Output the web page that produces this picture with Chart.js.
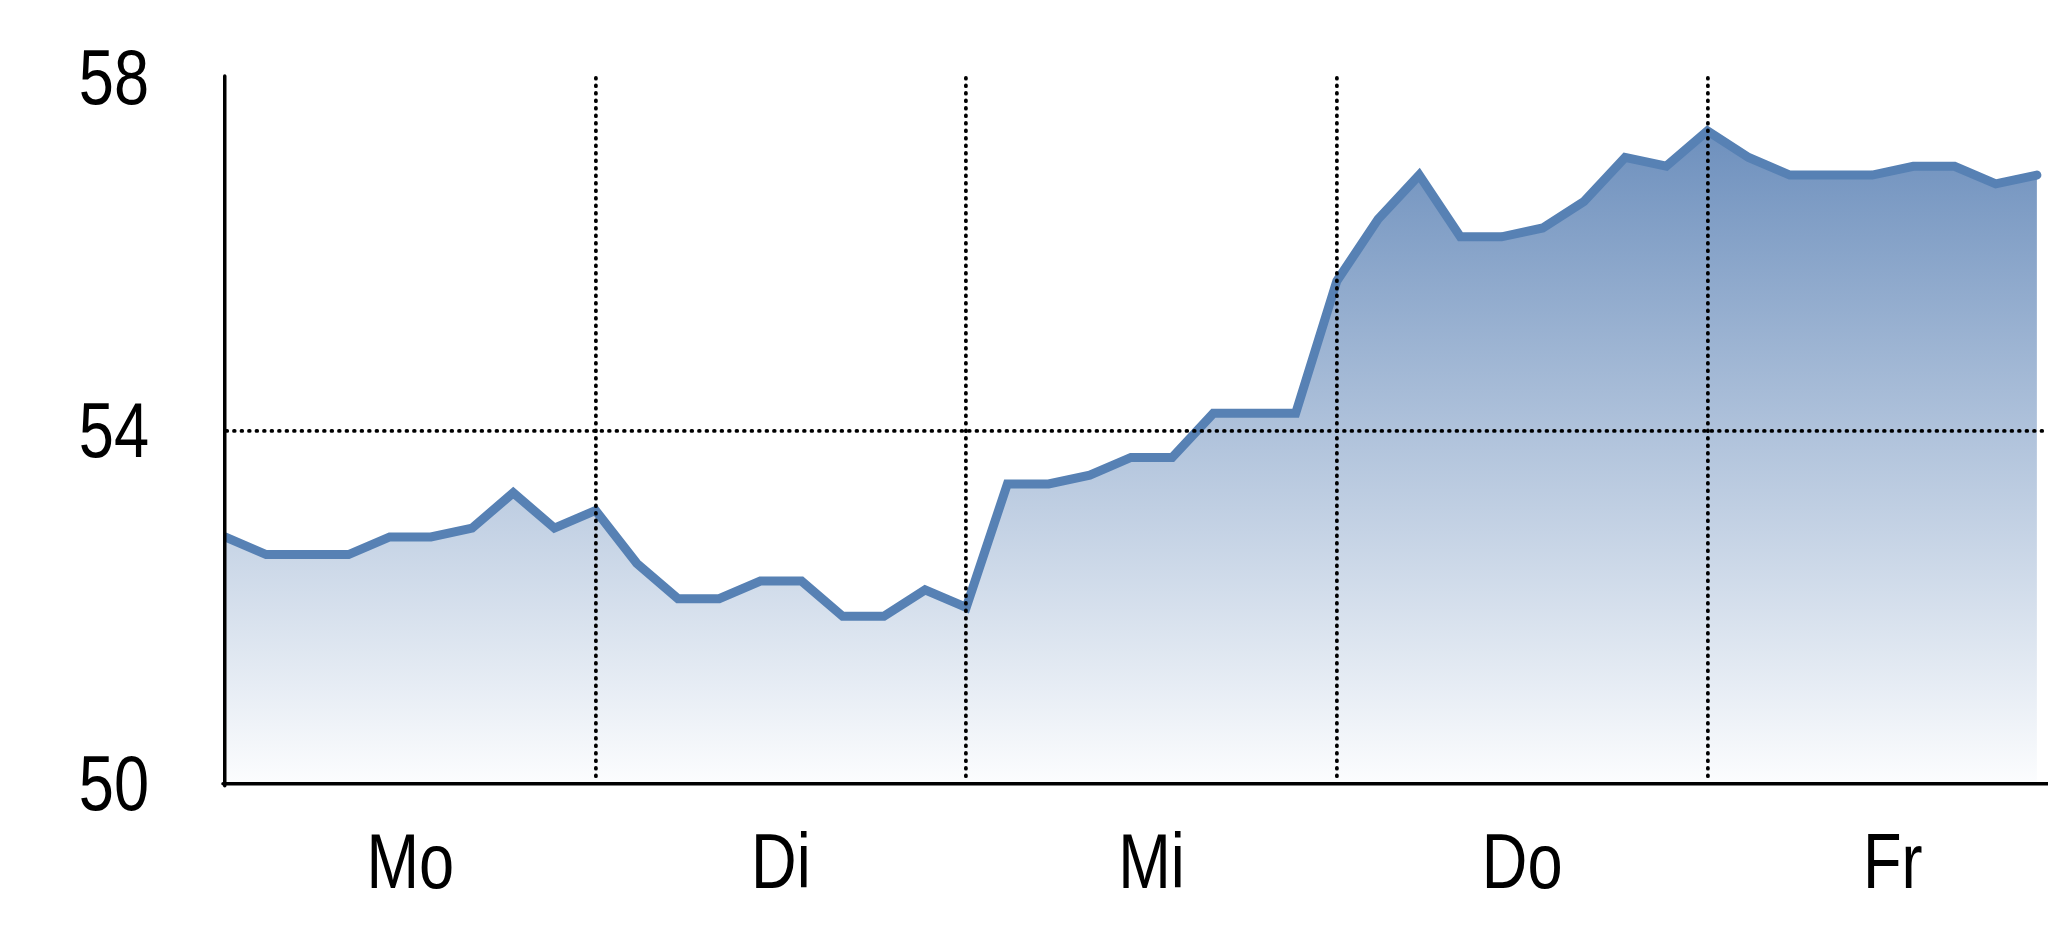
<!DOCTYPE html>
<html>
<head>
<meta charset="utf-8">
<script src="https://cdn.jsdelivr.net/npm/chart.js@4/dist/chart.umd.min.js"></script>
<style>
  html, body { margin: 0; padding: 0; background: #ffffff; }
  #wrap { width: 2048px; height: 937px; }
</style>
</head>
<body>
<div id="wrap"><canvas id="c" width="2048" height="937"></canvas></div>
<script>
// ---- data ----
const dayLabels = ['Mo', 'Di', 'Mi', 'Do', 'Fr'];
const pointsPerDay = 9;
const values = [
  52.8, 52.6, 52.6, 52.6, 52.8, 52.8, 52.9, 53.3, 52.9,
  53.1, 52.5, 52.1, 52.1, 52.3, 52.3, 51.9, 51.9, 52.2,
  52.0, 53.4, 53.4, 53.5, 53.7, 53.7, 54.2, 54.2, 54.2,
  55.7, 56.4, 56.9, 56.2, 56.2, 56.3, 56.6, 57.1, 57.0,
  57.4, 57.1, 56.9, 56.9, 56.9, 57.0, 57.0, 56.8, 56.9
];
const yTicks = [50, 54, 58];
const yMin = 50, yMax = 58;

// ---- build ----
const points = values.map((v, i) => ({ x: i, y: v }));
const xGridTicks = [];
const xLabelTicks = [];
for (let d = 0; d < dayLabels.length; d++) {
  xLabelTicks.push(d * pointsPerDay + pointsPerDay / 2);
  if (d > 0) xGridTicks.push(d * pointsPerDay);
}
const xTicksAll = xLabelTicks.concat(xGridTicks).sort((a, b) => a - b);

const FONT = '77px "Liberation Sans", Arial, sans-serif';
const NARROW = 0.82;   // condensed look (Arial Narrow style)
const DOT = [0.7, 6.8];

// round-capped dotted grid lines
const roundCap = {
  id: 'roundCap',
  beforeDraw(chart) { chart.ctx.lineCap = 'round'; }
};

// condensed tick labels, positioned through the chart's own scales
const narrowLabels = {
  id: 'narrowLabels',
  afterDraw(chart) {
    const ctx = chart.ctx;
    const xs = chart.scales.x, ys = chart.scales.y;
    ctx.save();
    ctx.font = FONT;
    ctx.fillStyle = '#000';
    ctx.textBaseline = 'alphabetic';
    ctx.textAlign = 'right';
    yTicks.forEach(v => {
      const py = ys.getPixelForValue(v);
      ctx.save();
      ctx.translate(ys.right - 76, py + 26);
      ctx.scale(NARROW, 1);
      ctx.fillText(String(v), 0, 0);
      ctx.restore();
    });
    ctx.textAlign = 'center';
    xLabelTicks.forEach((v, i) => {
      const px = xs.getPixelForValue(v);
      ctx.save();
      ctx.translate(px, xs.top + 104);
      ctx.scale(NARROW, 1);
      ctx.fillText(dayLabels[i], 0, 0);
      ctx.restore();
    });
    ctx.restore();
  }
};

new Chart(document.getElementById('c'), {
  type: 'line',
  data: {
    datasets: [{
      data: points,
      borderColor: '#5781b4',
      borderWidth: 9,
      borderCapStyle: 'round',
      borderJoinStyle: 'miter',
      pointRadius: 0,
      tension: 0,
      fill: 'start',
      backgroundColor: (ctx) => {
        const ca = ctx.chart.chartArea;
        if (!ca) return 'rgba(98,135,184,0.5)';
        const g = ctx.chart.ctx.createLinearGradient(0, ca.top, 0, ca.bottom);
        g.addColorStop(0, 'rgb(98,135,184)');
        g.addColorStop(1, 'rgb(252,253,254)');
        return g;
      }
    }]
  },
  options: {
    responsive: false,
    animation: false,
    events: [],
    layout: { padding: { top: 78, right: 0, left: 0, bottom: 0 } },
    plugins: { legend: { display: false }, tooltip: { enabled: false } },
    scales: {
      x: {
        type: 'linear',
        min: 0,
        max: 44.27,
        z: 1,
        afterBuildTicks(scale) { scale.ticks = xTicksAll.map(v => ({ value: v })); },
        afterFit(scale) { scale.height = 153; },
        ticks: { display: false },
        grid: {
          z: 1,
          drawTicks: false,
          lineWidth: 3.8,
          color: (c) => (c.tick && c.tick.value % pointsPerDay === 0 ? '#000' : 'rgba(0,0,0,0)')
        },
        border: { z: 2, display: true, color: '#000', width: 3.5, dash: DOT }
      },
      y: {
        min: yMin,
        max: yMax,
        z: 1,
        afterBuildTicks(scale) { scale.ticks = yTicks.map(v => ({ value: v })); },
        afterFit(scale) { scale.width = 225; },
        ticks: { display: false },
        grid: {
          z: 1,
          drawTicks: false,
          lineWidth: 3.8,
          color: (c) => (c.tick && c.tick.value !== yMin && c.tick.value !== yMax ? '#000' : 'rgba(0,0,0,0)')
        },
        border: { z: 2, display: true, color: '#000', width: 3.5, dash: DOT }
      }
    }
  },
  plugins: [roundCap, narrowLabels]
});
</script>
</body>
</html>
